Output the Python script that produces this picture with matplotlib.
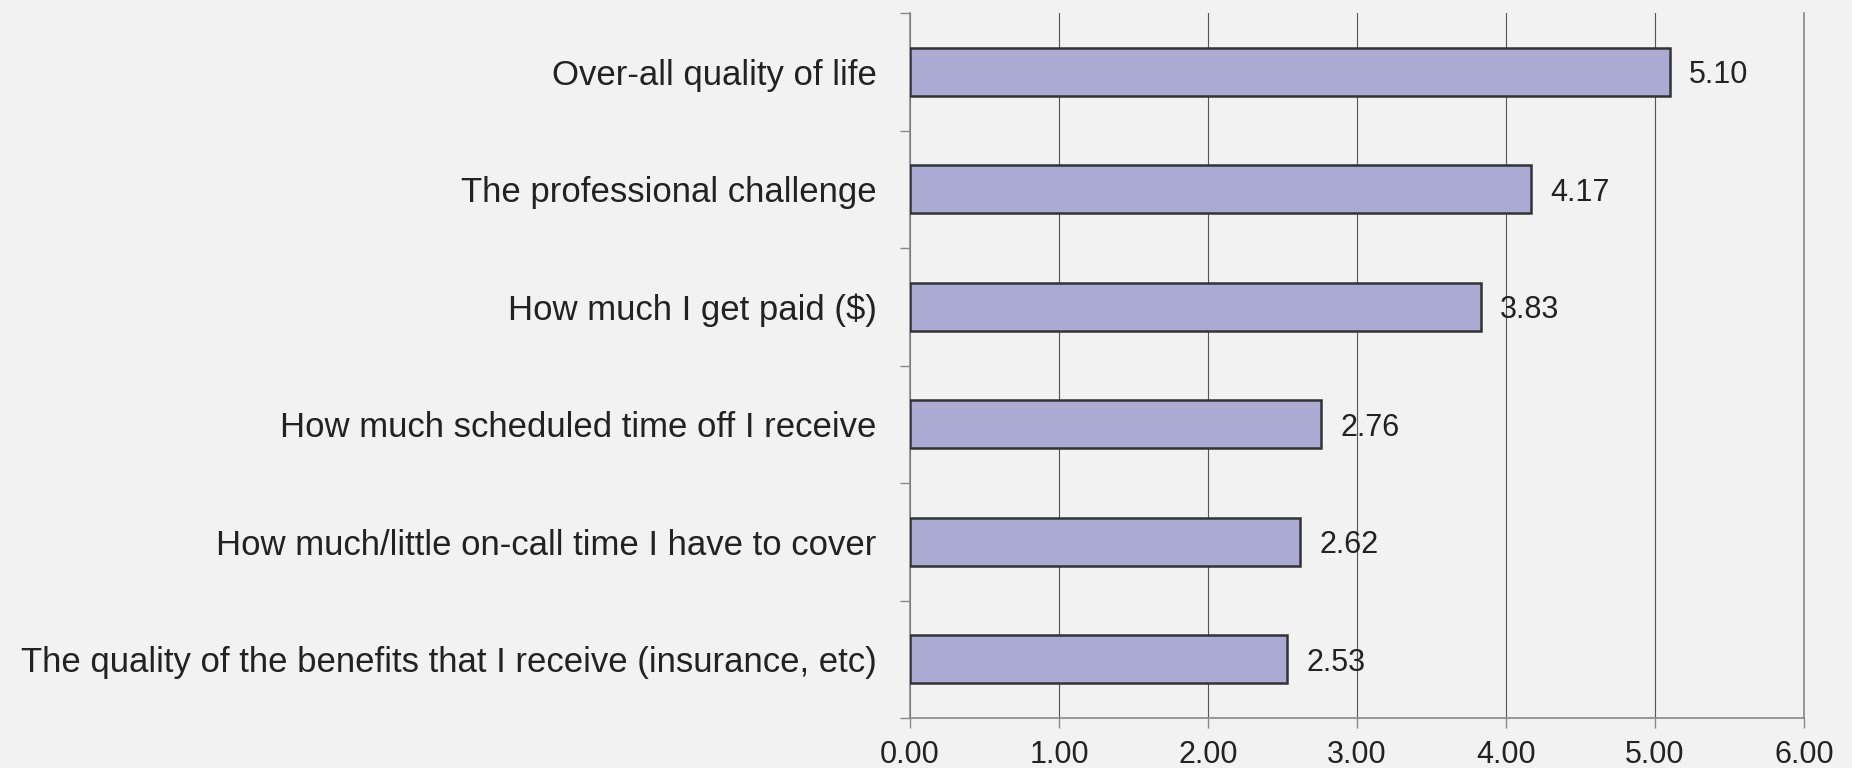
import matplotlib
matplotlib.use("Agg")
import matplotlib.pyplot as plt
from matplotlib import font_manager
import numpy as np

labels = [
    "Over-all quality of life",
    "The professional challenge",
    "How much I get paid ($)",
    "How much scheduled time off I receive",
    "How much/little on-call time I have to cover",
    "The quality of the benefits that I receive (insurance, etc)",
]
values = [5.10, 4.17, 3.83, 2.76, 2.62, 2.53]
xticks = [0, 1, 2, 3, 4, 5, 6]

installed = {f.name for f in font_manager.fontManager.ttflist}
narrow = "Liberation Sans Narrow" if "Liberation Sans Narrow" in installed else "Liberation Sans"

bg = "#f2f2f2"
fig = plt.figure(figsize=(18.52, 7.68), dpi=100, facecolor=bg)
ax = fig.add_axes([910 / 1852, 1 - 718 / 768, 894 / 1852, 705 / 768])
ax.set_facecolor(bg)

y = np.arange(len(labels))
ax.barh(y, values, height=0.41, color="#aaaad3", edgecolor="#333333",
        linewidth=1.8, zorder=3)

for yi, v in zip(y, values):
    ax.text(v + 0.13, yi, f"{v:.2f}", va="center_baseline", ha="left",
            fontsize=22, family="Liberation Sans", color="#222222", zorder=4)

ax.set_xlim(0, 6)
ax.set_ylim(len(labels) - 0.5, -0.5)
ax.set_xticks(xticks)
ax.set_xticklabels([f"{t:.2f}" for t in xticks], family=narrow, fontsize=22,
                   color="#222222")
ax.set_yticks(y)
ax.set_yticklabels(labels, family=narrow, fontsize=25, color="#222222")
ax.set_yticks(np.arange(-0.5, len(labels), 1), minor=True)

ax.tick_params(axis="y", which="major", length=0, pad=24)
ax.tick_params(axis="y", which="minor", length=7, width=1, color="#888888",
               direction="out")
ax.tick_params(axis="x", length=7, width=1, color="#888888", direction="out",
               pad=9)

ax.grid(axis="x", color="#555555", linewidth=0.8, zorder=1)
ax.spines["top"].set_visible(False)
for s in ["left", "bottom", "right"]:
    ax.spines[s].set_color("#888888")
    ax.spines[s].set_linewidth(1.2)

plt.savefig("out.png", dpi=100, facecolor=bg)
